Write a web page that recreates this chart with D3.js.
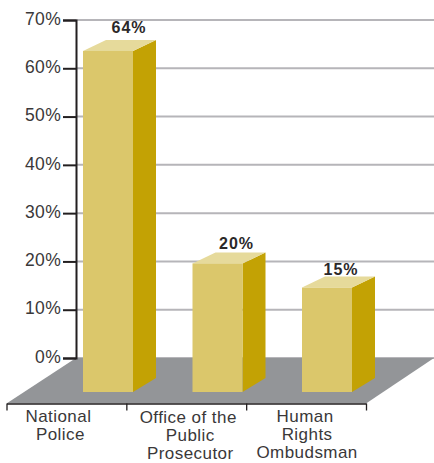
<!DOCTYPE html>
<html>
<head>
<meta charset="utf-8">
<script src="https://d3js.org/d3.v7.min.js"></script>
<style>
  html, body { margin: 0; padding: 0; background: #fff; }
  svg { display: block; }
  text { font-family: "Liberation Sans", Arial, sans-serif; fill: #3a3839; }
</style>
</head>
<body>
<svg width="434" height="463"></svg>
<script>
var categories = [["National", "Police"], ["Office of the", "Public", "Prosecutor"], ["Human", "Rights", "Ombudsman"]];
var values = [64, 20, 15];
var yTicks = [0, 10, 20, 30, 40, 50, 60, 70];

var svg = d3.select("svg"),
    axisX = 76,
    right = 434,
    floorBack = 358,
    floorFront = 403.5,
    barBase = 392,
    barWidth = 50,
    depthX = 23,
    topRise = 11,
    baseRise = 14;

var y = d3.scaleLinear().domain([0, 70]).range([358, 20]);
var index = d3.range(categories.length);

// bars are spaced tighter than the axis bands underneath them
var barX = d3.scalePoint().domain(index).range([83, 302]);
var band = d3.scaleLinear().domain([0, categories.length]).range([6.5, 366]);

// hand nudges for the labels, the original is not set quite regular
var valueDx = [46, 44, 39],
    valueDy = [-7, -3, -2],
    catDx = [-8, 2, -1],
    catDy = [0.5, 1.5, 0.5];

// gridlines behind everything
svg.append("g")
  .selectAll("line")
  .data(yTicks)
  .enter().append("line")
    .attr("x1", axisX)
    .attr("x2", right)
    .attr("y1", function(d) { return y(d); })
    .attr("y2", function(d) { return y(d); })
    .attr("stroke", "#b6b5b9")
    .attr("stroke-width", 2);

// floor
svg.append("polygon")
  .attr("points", [[axisX, floorBack], [right, floorBack], [band(3), floorFront], [band(0), floorFront]].join(" "))
  .attr("fill", "#939598");

// y axis
var yAxis = svg.append("g")
  .attr("transform", "translate(" + axisX + ",0)")
  .call(d3.axisLeft(y).tickValues(yTicks).tickSize(13).tickPadding(2).tickFormat(function(d) { return d + "%"; }));
yAxis.selectAll("path, line").attr("stroke", "#231f20").attr("stroke-width", 2);
yAxis.selectAll("text")
  .attr("font-size", 17.5)
  .attr("font-family", "Liberation Sans")
  .attr("letter-spacing", 0.3)
  .attr("dy", "0.24em")
  .style("fill", "#3a3839");

// bars
var bars = svg.append("g")
  .selectAll("g")
  .data(index)
  .enter().append("g");

function topY(i) { return y(values[i]) + 2; }

bars.append("polygon")
  .attr("points", function(i) {
    var x = barX(i) + barWidth;
    return [[x, topY(i)], [x + depthX, topY(i) - topRise], [x + depthX, barBase - baseRise], [x, barBase]].join(" ");
  })
  .attr("fill", "#c3a204");

bars.append("polygon")
  .attr("points", function(i) {
    var x = barX(i);
    return [[x, topY(i)], [x + barWidth, topY(i)], [x + barWidth + depthX, topY(i) - topRise], [x + depthX, topY(i) - topRise]].join(" ");
  })
  .attr("fill", "#e6da9b");

bars.append("rect")
  .attr("x", function(i) { return barX(i); })
  .attr("y", topY)
  .attr("width", barWidth)
  .attr("height", function(i) { return barBase - topY(i); })
  .attr("fill", "#dbc76b");

bars.append("text")
  .attr("x", function(i) { return barX(i) + valueDx[i]; })
  .attr("y", function(i) { return topY(i) - topRise + valueDy[i]; })
  .attr("text-anchor", "middle")
  .attr("font-size", 16)
  .attr("font-weight", "bold")
  .attr("letter-spacing", 1)
  .style("fill", "#2b2829")
  .text(function(i) { return values[i] + "%"; });

// x axis, ticks sit on the band edges
var xAxis = svg.append("g")
  .attr("transform", "translate(0," + floorFront + ")")
  .call(d3.axisBottom(band).tickValues(d3.range(categories.length + 1)).tickSize(7).tickSizeOuter(0).tickFormat(""));
xAxis.selectAll("path, line").attr("stroke", "#231f20").attr("stroke-width", 1.3);

svg.append("g")
  .selectAll("text")
  .data(index)
  .enter().append("text")
    .attr("text-anchor", "middle")
    .attr("font-size", 17)
    .attr("letter-spacing", 0.45)
    .attr("y", function(i) { return 421.5 + catDy[i]; })
  .selectAll("tspan")
  .data(function(i) { return categories[i].map(function(t, n) { return {text: t, n: n, i: i}; }); })
  .enter().append("tspan")
    .attr("x", function(d) { return band(d.i + 0.5) + catDx[d.i] + (d.n > 0 ? 2 : 0); })
    .attr("dy", function(d) { return d.n ? 18.2 : 0; })
    .text(function(d) { return d.text; });
</script>
</body>
</html>
